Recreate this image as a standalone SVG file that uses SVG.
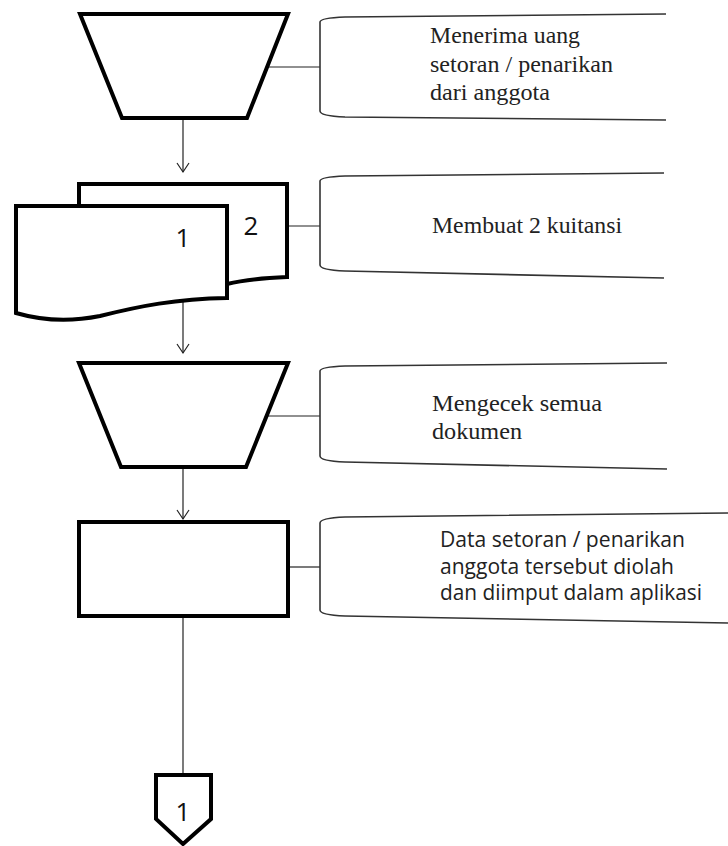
<svg xmlns="http://www.w3.org/2000/svg" width="728" height="846" viewBox="0 0 728 846">
<defs>
<marker id="arr" viewBox="0 0 14 14" refX="12" refY="7" markerWidth="14" markerHeight="14" markerUnits="userSpaceOnUse" orient="auto">
<polyline points="3,1 12,7 3,13" fill="none" stroke="#222" stroke-width="1.2"/>
</marker>
<style>
.shape{fill:#fff;stroke:#000;stroke-width:4;stroke-linejoin:miter}
.ann{fill:none;stroke:#333;stroke-width:1.6}
.con{fill:none;stroke:#222;stroke-width:1.2}
.serif{font-family:"Liberation Serif","Times New Roman",serif;font-size:24px;fill:#222}
.sans{font-family:"Open Sans","Noto Sans",sans-serif;font-size:21px;fill:#222}
.num{font-family:"Open Sans","Noto Sans",sans-serif;font-size:26px;fill:#111;text-anchor:middle}
</style>
</defs>
<rect width="728" height="846" fill="#fff"/>

<g id="connectors">
<line class="con" x1="183" y1="118" x2="183" y2="172" marker-end="url(#arr)"/>
<line class="con" x1="183" y1="300" x2="183" y2="353" marker-end="url(#arr)"/>
<line class="con" x1="183" y1="467" x2="183" y2="519" marker-end="url(#arr)"/>
<line class="con" x1="183" y1="616" x2="183" y2="775"/>
<line class="con" x1="268" y1="67" x2="320" y2="67"/>
<line class="con" x1="287" y1="226" x2="320" y2="226"/>
<line class="con" x1="268" y1="416" x2="320" y2="416"/>
<line class="con" x1="288" y1="567" x2="320" y2="567"/>
</g>

<g id="node1">
<polygon class="shape" points="80,14 288,14 247,118 122,118"/>
</g>
<g id="note1">
<path class="ann" d="M666,14 L345,17 Q320,18 320,22 V111 Q320,116 345,117 L666,120"/>
<text class="serif" x="430" y="43" textLength="150" lengthAdjust="spacingAndGlyphs">Menerima  uang</text>
<text class="serif" x="430" y="72" textLength="183" lengthAdjust="spacingAndGlyphs">setoran / penarikan</text>
<text class="serif" x="430" y="100" textLength="120" lengthAdjust="spacingAndGlyphs">dari anggota</text>
</g>

<g id="node2">
<path class="shape" d="M79,206 V184 H287 V277 C262,278 243,280 227,284"/>
<path class="shape" d="M16,206 H227 V298 C175,299 140,306 100,316 C70,322 40,320 16,313 Z"/>
<text class="num" x="183" y="247">1</text>
<text class="num" x="251" y="235">2</text>
</g>
<g id="note2">
<path class="ann" d="M664,173 L345,176 Q320,177 320,181 V265 Q320,270 345,271 L664,278"/>
<text class="serif" x="432" y="233" textLength="190" lengthAdjust="spacingAndGlyphs">Membuat 2 kuitansi</text>
</g>

<g id="node3">
<polygon class="shape" points="79,363 288,363 246,467 121,467"/>
</g>
<g id="note3">
<path class="ann" d="M667,363 L345,366 Q320,367 320,371 V456 Q320,461 345,462 L667,469"/>
<text class="serif" x="432" y="411" textLength="170" lengthAdjust="spacingAndGlyphs">Mengecek  semua</text>
<text class="serif" x="432" y="439" textLength="90" lengthAdjust="spacingAndGlyphs">dokumen</text>
</g>

<g id="node4">
<rect class="shape" x="79" y="522" width="209" height="94"/>
</g>
<g id="note4">
<path class="ann" d="M728,513 L345,517 Q320,518 320,523 V610 Q320,615 345,616 L728,623"/>
<text class="sans" x="440" y="547" textLength="245" lengthAdjust="spacingAndGlyphs">Data setoran / penarikan</text>
<text class="sans" x="440" y="574" textLength="234" lengthAdjust="spacingAndGlyphs">anggota tersebut diolah</text>
<text class="sans" x="440" y="600" textLength="262" lengthAdjust="spacingAndGlyphs">dan diimput dalam aplikasi</text>
</g>

<g id="offpage">
<polygon class="shape" points="156,775 211,775 211,819 183,844 156,819"/>
<text class="num" x="183" y="821">1</text>
</g>
</svg>
